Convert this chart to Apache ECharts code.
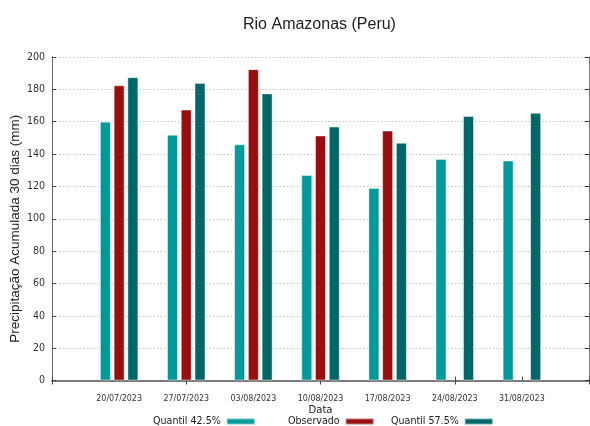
<!DOCTYPE html>
<html>
<head>
<meta charset="utf-8">
<script src="https://cdn.jsdelivr.net/npm/echarts@6/dist/echarts.min.js"></script>
<style>
html,body{margin:0;padding:0;background:#fff;}
#chart{width:590px;height:426px;}
</style>
</head>
<body>
<div id="chart"></div>
<script>
// Data
const categories = ['', '20/07/2023', '27/07/2023', '03/08/2023', '10/08/2023', '17/08/2023', '24/08/2023', '31/08/2023', ''];
const q425 = [null, 160, 152, 146, 127, 119, 137, 136, null];
const observado = [null, 182.5, 167.5, 192.5, 151.5, 154.5, null, null, null];
const q575 = [null, 187.5, 184, 177.5, 157, 147, 163.5, 165.5, null];
const yTicks = [0, 20, 40, 60, 80, 100, 120, 140, 160, 180, 200];
const seriesNames = ['Quantil 42.5%', 'Observado', 'Quantil 57.5%'];
const colors = ['#009999', '#990f0f', '#006666'];

// detect an installed narrow font
function hasFont(name) {
  const c = document.createElement('canvas').getContext('2d');
  const s = '20/07/2023 Quantil';
  c.font = '20px monospace';
  const a = c.measureText(s).width;
  c.font = '20px "' + name + '", monospace';
  const b = c.measureText(s).width;
  return Math.abs(a - b) > 0.5;
}
let narrow, fs;
if (hasFont('Liberation Sans Narrow')) { narrow = '"Liberation Sans Narrow", sans-serif'; fs = {x: 10, y: 11, leg: 12, name: 12}; }
else if (hasFont('DejaVu Sans Condensed')) { narrow = '"DejaVu Sans Condensed", sans-serif'; fs = {x: 8.8, y: 10.5, leg: 10.6, name: 11.2}; }
else { narrow = '"Liberation Sans", Arial, sans-serif'; fs = {x: 8.8, y: 10, leg: 10.5, name: 10.5}; }
const regular = '"Liberation Sans", Arial, sans-serif';

const chart = echarts.init(document.getElementById('chart'), null, {renderer: 'canvas'});

function legendAt(i, left) {
  return {
    show: true,
    left: left,
    top: 416,
    align: 'right',
    itemWidth: 28,
    itemHeight: 6,
    itemGap: 0,
    icon: 'rect',
    data: [seriesNames[i]],
    textStyle: {fontFamily: narrow, fontSize: fs.leg, color: '#222', padding: [0, 1, 0, 0]},
    padding: 0
  };
}

const barStyle = (c) => ({color: c, borderColor: 'rgba(255,255,255,0.45)', borderWidth: 1});

const option = {
  animation: false,
  backgroundColor: '#fff',
  title: {
    text: 'Rio Amazonas (Peru)',
    left: 243,
    top: 17,
    padding: 0,
    textStyle: {fontFamily: regular, fontSize: 16, fontWeight: 'normal', color: '#222'}
  },
  legend: [legendAt(0, 153), legendAt(1, 288), legendAt(2, 391)],
  grid: {left: 52, right: 1, top: 57, bottom: 45.5, containLabel: false, outerBoundsMode: 'none'},
  xAxis: [{
    type: 'category',
    data: categories,
    boundaryGap: false,
    position: 'bottom',
    name: 'Data',
    nameLocation: 'middle',
    nameGap: 24,
    nameMoveOverlap: false,
    nameTextStyle: {fontFamily: narrow, fontSize: fs.name, color: '#222'},
    axisLine: {lineStyle: {color: '#666', width: 1.5}},
    axisTick: {inside: true, length: 4, lineStyle: {color: '#444'}},
    axisLabel: {fontFamily: narrow, fontSize: fs.x, color: '#333', margin: 14, interval: 0},
    splitLine: {show: false}
  }, {
    type: 'category',
    data: categories,
    boundaryGap: false,
    position: 'top',
    axisLine: {lineStyle: {color: '#777', width: 1.5}},
    axisTick: {inside: true, length: 4, lineStyle: {color: '#444'}},
    axisLabel: {show: false},
    splitLine: {show: false}
  }],
  yAxis: [{
    type: 'value',
    min: yTicks[0],
    max: yTicks[yTicks.length - 1],
    interval: 20,
    name: 'Precipitação Acumulada 30 dias (mm)',
    nameLocation: 'middle',
    nameGap: 30,
    nameMoveOverlap: false,
    nameRotate: 90,
    nameTextStyle: {fontFamily: regular, fontSize: 13.5, color: '#222', padding: [0, 20, 0, 0]},
    axisLine: {show: true, lineStyle: {color: '#666', width: 1}},
    axisTick: {show: true, inside: true, length: 4, lineStyle: {color: '#444'}},
    axisLabel: {fontFamily: narrow, fontSize: fs.y, color: '#333', margin: 7},
    splitLine: {show: true, lineStyle: {color: '#c4c4c4', type: [1.5, 2], width: 1}}
  }, {
    type: 'value',
    min: yTicks[0],
    max: yTicks[yTicks.length - 1],
    interval: 20,
    position: 'right',
    axisLine: {show: true, lineStyle: {color: '#777', width: 1}},
    axisTick: {show: true, inside: true, length: 4, lineStyle: {color: '#333'}},
    axisLabel: {show: false},
    splitLine: {show: false}
  }],
  series: [
    {name: seriesNames[0], type: 'bar', data: q425, barWidth: 11, barGap: '25%', itemStyle: barStyle(colors[0])},
    {name: seriesNames[1], type: 'bar', data: observado, barWidth: 11, barGap: '25%', itemStyle: barStyle(colors[1])},
    {name: seriesNames[2], type: 'bar', data: q575, barWidth: 11, barGap: '25%', itemStyle: barStyle(colors[2])}
  ]
};
chart.setOption(option);
</script>
</body>
</html>
